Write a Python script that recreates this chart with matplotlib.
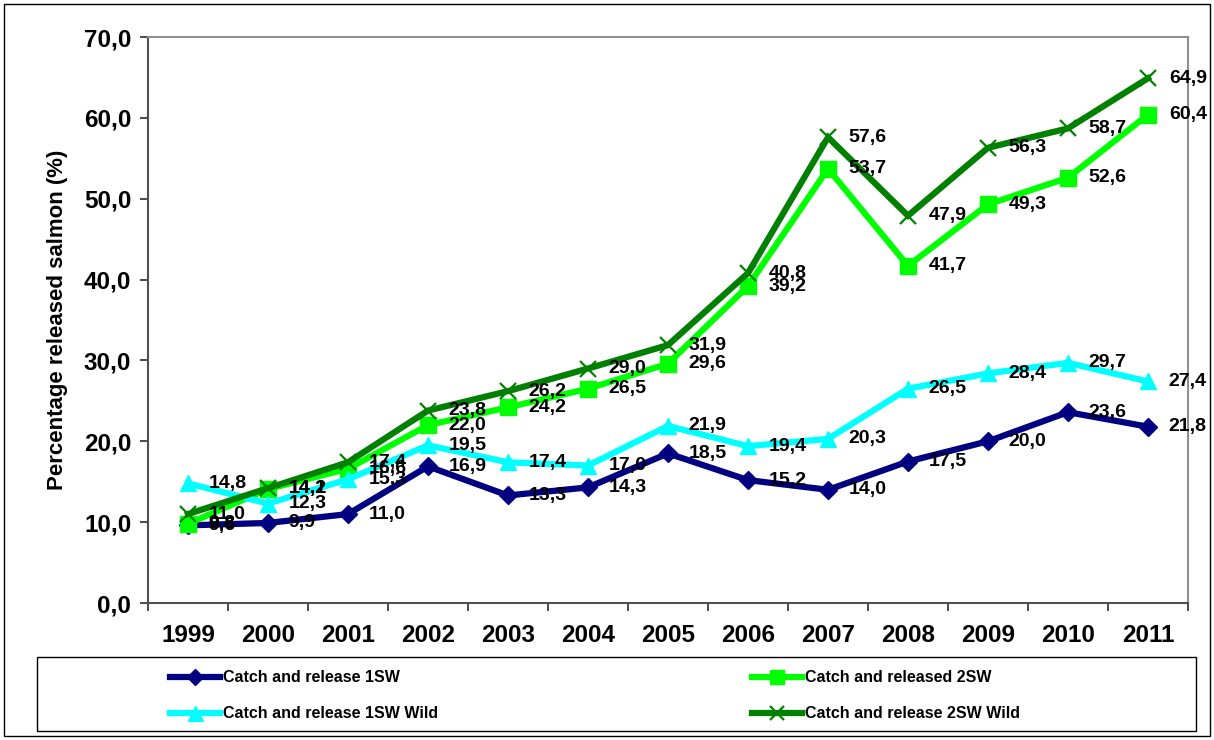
import matplotlib
matplotlib.use("Agg")
import matplotlib.pyplot as plt
from matplotlib.lines import Line2D
from matplotlib.patches import Rectangle

plt.rcParams['font.family'] = ['Liberation Sans', 'DejaVu Sans']
plt.rcParams['font.weight'] = 'bold'

# data
years = ['1999', '2000', '2001', '2002', '2003', '2004', '2005',
         '2006', '2007', '2008', '2009', '2010', '2011']
cr_1sw = [9.6, 9.9, 11.0, 16.9, 13.3, 14.3, 18.5, 15.2, 14.0, 17.5, 20.0, 23.6, 21.8]
cr_2sw = [9.8, 14.1, 16.6, 22.0, 24.2, 26.5, 29.6, 39.2, 53.7, 41.7, 49.3, 52.6, 60.4]
cr_1sw_wild = [14.8, 12.3, 15.3, 19.5, 17.4, 17.0, 21.9, 19.4, 20.3, 26.5, 28.4, 29.7, 27.4]
cr_2sw_wild = [11.0, 14.2, 17.4, 23.8, 26.2, 29.0, 31.9, 40.8, 57.6, 47.9, 56.3, 58.7, 64.9]

series_names = ['Catch and release 1SW', 'Catch and released 2SW',
                'Catch and release 1SW Wild', 'Catch and release 2SW Wild']
series_values = [cr_1sw, cr_2sw, cr_1sw_wild, cr_2sw_wild]

W, H = 1214, 740
fig = plt.figure(figsize=(W / 100, H / 100), dpi=100)
ax = fig.add_axes([148 / W, 1 - 603 / H, (1188 - 148) / W, (603 - 37) / H])

styles = [
    dict(color='#000080', marker='D', markersize=9),
    dict(color='#00FF00', marker='s', markersize=11),
    dict(color='#00FFFF', marker='^', markersize=12),
    dict(color='#008000', marker='x', markersize=11, markeredgewidth=1.6),
]

x = list(range(len(years)))
lines = []
for vals, name, st in zip(series_values, series_names, styles):
    ln, = ax.plot(x, vals, lw=4.5, label=name, solid_joinstyle='miter', **st)
    lines.append(ln)

# data labels, right of each point
for vals in series_values:
    for i, v in enumerate(vals):
        ax.annotate(f"{v:.1f}".replace('.', ','), (i, v), xytext=(15, 0),
                    textcoords='offset points', ha='left', va='center',
                    fontsize=14, fontweight='bold', color='black', zorder=10)

ax.set_xlim(-0.5, len(years) - 0.5)
ax.set_ylim(0, 70)
ax.set_yticks(range(0, 71, 10))
ax.set_yticklabels([f"{t},0" for t in range(0, 71, 10)], fontsize=17.5, fontweight='bold')
ax.set_xticks(x)
ax.set_xticklabels(years, fontsize=17.5, fontweight='bold')
ax.set_xticks([i + 0.5 for i in range(-1, len(years))], minor=True)
ax.tick_params(axis='x', which='major', length=0, pad=15)
ax.tick_params(axis='x', which='minor', length=6, width=1.5, color='#505050', direction='out')
ax.tick_params(axis='y', length=6, width=1.5, color='#505050', direction='out', pad=6)

for s in ['left', 'bottom']:
    ax.spines[s].set_color('#505050')
    ax.spines[s].set_linewidth(1.5)
for s in ['top', 'right']:
    ax.spines[s].set_color('#909090')
    ax.spines[s].set_linewidth(1.5)

ax.set_ylabel('Percentage released salmon (%)', fontsize=16, fontweight='bold', va='center')
ax.yaxis.set_label_coords((58 - 148) / 1040, 0.5)

# legend box drawn by hand to match layout
fig.add_artist(Rectangle((37 / W, 1 - 731 / H), (1196 - 37) / W, (731 - 657) / H,
                         transform=fig.transFigure, fill=False, ec='black', lw=1))
legend_pos = [(170, 677), (752, 677), (170, 713), (752, 713)]
for ln, (px, py) in zip(lines, legend_pos):
    fig.add_artist(Line2D([px / W, (px + 50) / W], [1 - py / H, 1 - py / H],
                          transform=fig.transFigure, color=ln.get_color(), lw=4.5))
    fig.add_artist(Line2D([(px + 25) / W], [1 - py / H], transform=fig.transFigure,
                          color=ln.get_color(), marker=ln.get_marker(),
                          markersize=ln.get_markersize() * 0.9,
                          markeredgewidth=ln.get_markeredgewidth()))
    fig.text((px + 53) / W, 1 - py / H, ln.get_label(), fontsize=11.5,
             fontweight='bold', va='center', ha='left')

# outer border
fig.add_artist(Rectangle((4 / W, 4 / H), (W - 8) / W, (H - 8) / H,
                         transform=fig.transFigure, fill=False, ec='black', lw=1))

fig.savefig('out.png', dpi=100)
